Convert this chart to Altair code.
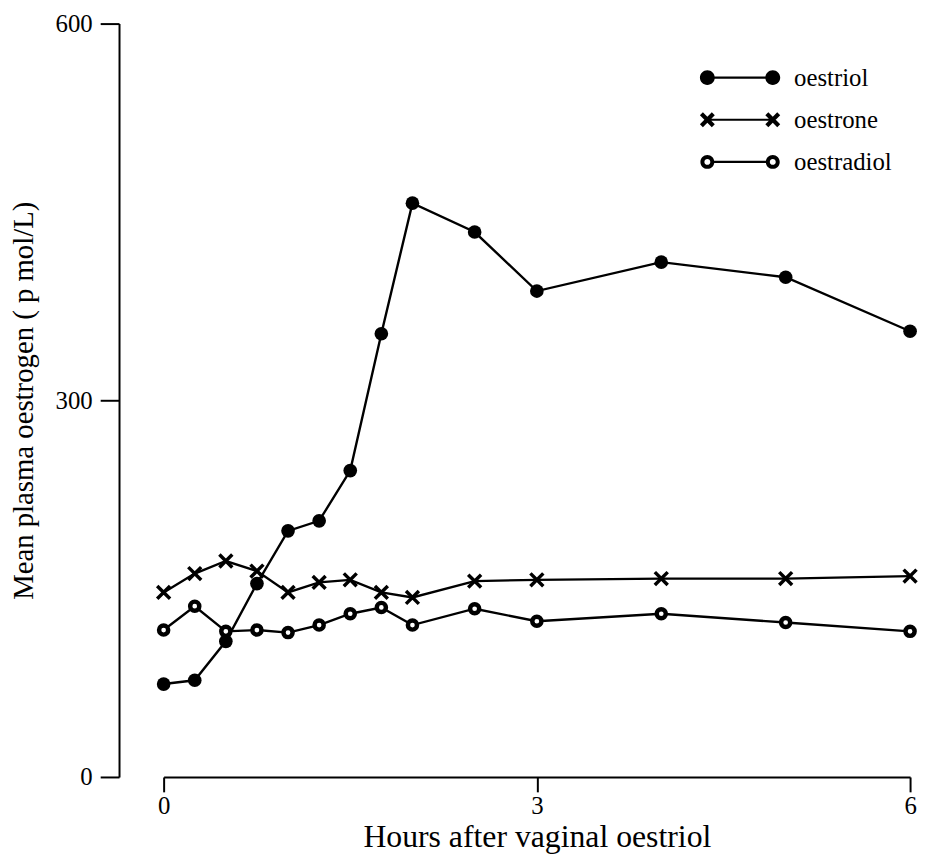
import altair as alt
import pandas as pd

hours = [0, 0.25, 0.5, 0.75, 1, 1.25, 1.5, 1.75, 2, 2.5, 3, 4, 5, 6]
oestriol = [74, 77, 108, 154, 196, 204, 244, 353, 457, 434, 387, 410, 398, 355]
oestrone = [147, 162, 172, 164, 147, 155, 157, 147, 143, 156, 157, 158, 158, 160]
oestradiol = [117, 136, 116, 117, 115, 121, 130, 135, 121, 134, 124, 130, 123, 116]
series_names = ["oestriol", "oestrone", "oestradiol"]
x_ticks = [0, 3, 6]
y_ticks = [0, 300, 600]

rows = []
for name, vals in zip(series_names, [oestriol, oestrone, oestradiol]):
    for h, v in zip(hours, vals):
        rows.append({"hours": h, "value": v, "series": name})
df = pd.DataFrame(rows)

FONT = "Liberation Serif"


def circ(cx, r, sweep):
    return (f"M{cx - r:.3f},0A{r},{r} 0 1,{sweep} {cx + r:.3f},0"
            f"A{r},{r} 0 1,{sweep} {cx - r:.3f},0Z")


def bar(x0, x1, h=0.11):
    return f"M{x0},{-h}L{x1},{-h}L{x1},{h}L{x0},{h}Z"


def xpoly(cx, s=0.6, h=0.15):
    a = [(cx - s + h, -s - h), (cx + s + h, s - h), (cx + s - h, s + h), (cx - s - h, -s + h)]
    b = [(cx - s + h, s + h), (cx - s - h, s - h), (cx + s - h, -s - h), (cx + s + h, -s + h)]
    out = ""
    for quad in (a, b):
        out += "M" + "L".join(f"{px:.3f},{py:.3f}" for px, py in quad) + "Z"
    return out


leg_filled = circ(-3.3, 0.75, 1) + circ(3.3, 0.75, 1) + bar(-3.3, 3.3)
leg_cross = xpoly(-3.3) + xpoly(3.3) + bar(-3.0, 3.0)
leg_ring = (circ(-3.3, 0.7, 1) + circ(-3.3, 0.3, 0) + circ(3.3, 0.7, 1) + circ(3.3, 0.3, 0)
            + bar(-2.62, 2.62))
XMARK = "M-1,-1L1,1M-1,1L1,-1"

X = alt.X("hours:Q",
          scale=alt.Scale(domain=[0, 6], nice=False, zero=False),
          axis=alt.Axis(values=x_ticks, title="Hours after vaginal oestriol", grid=False,
                        tickSize=15, tickWidth=2, domainWidth=2, domainColor="black",
                        tickColor="black", labelFont=FONT, labelFontSize=25,
                        labelColor="black", labelPadding=2, labelFlush=False,
                        titleFont=FONT, titleFontSize=32, titleFontWeight="normal",
                        titleColor="black", titlePadding=3, format="d"))
Y = alt.Y("value:Q",
          scale=alt.Scale(domain=[0, 600], nice=False),
          axis=alt.Axis(values=y_ticks, title="Mean plasma oestrogen ( p mol/L)", grid=False,
                        offset=45, tickSize=19, tickWidth=2, domainWidth=2,
                        domainColor="black", tickColor="black", labelFont=FONT,
                        labelFontSize=25, labelColor="black", labelPadding=8,
                        labelFlush=False, titleFont=FONT, titleFontSize=29,
                        titleFontWeight="normal", titleColor="black", titlePadding=17))

base = alt.Chart(df)

lines = base.mark_line(color="black", strokeWidth=2.4).encode(x=X, y=Y, detail="series:N")
rings = base.transform_filter(alt.datum.series == "oestradiol").mark_point(
    shape="circle", filled=True, fill="white", stroke="black", strokeWidth=4.5,
    size=85, opacity=1).encode(x=X, y=Y)
crosses = base.transform_filter(alt.datum.series == "oestrone").mark_point(
    shape=XMARK, filled=False, color="black", strokeWidth=3.5, size=169,
    opacity=1).encode(x=X, y=Y)
dots = base.transform_filter(alt.datum.series == "oestriol").mark_point(
    shape="circle", filled=True, color="black", size=190, opacity=1).encode(x=X, y=Y)

legend_layer = base.transform_filter("false").mark_point(
    filled=True, color="black", opacity=1).encode(
    shape=alt.Shape("series:N",
                    scale=alt.Scale(domain=series_names,
                                    range=[leg_filled, leg_cross, leg_ring]),
                    legend=alt.Legend(title=None, orient="none", legendX=569, legendY=42,
                                      symbolSize=400, symbolStrokeWidth=0,
                                      symbolFillColor="black", symbolStrokeColor="black",
                                      symbolOpacity=1, labelFont=FONT, labelFontSize=25,
                                      labelColor="black", labelOffset=42, rowPadding=16.5,
                                      padding=0)))

chart = alt.layer(lines, rings, crosses, dots, legend_layer).properties(
    width=753, height=760,
    autosize=alt.AutoSizeParams(type="none"),
    padding={"left": 157, "top": 12, "right": 8, "bottom": 77},
    background="white",
).configure_view(stroke=None)

chart.save("out.html", embed_options={"renderer": "svg", "actions": False})
